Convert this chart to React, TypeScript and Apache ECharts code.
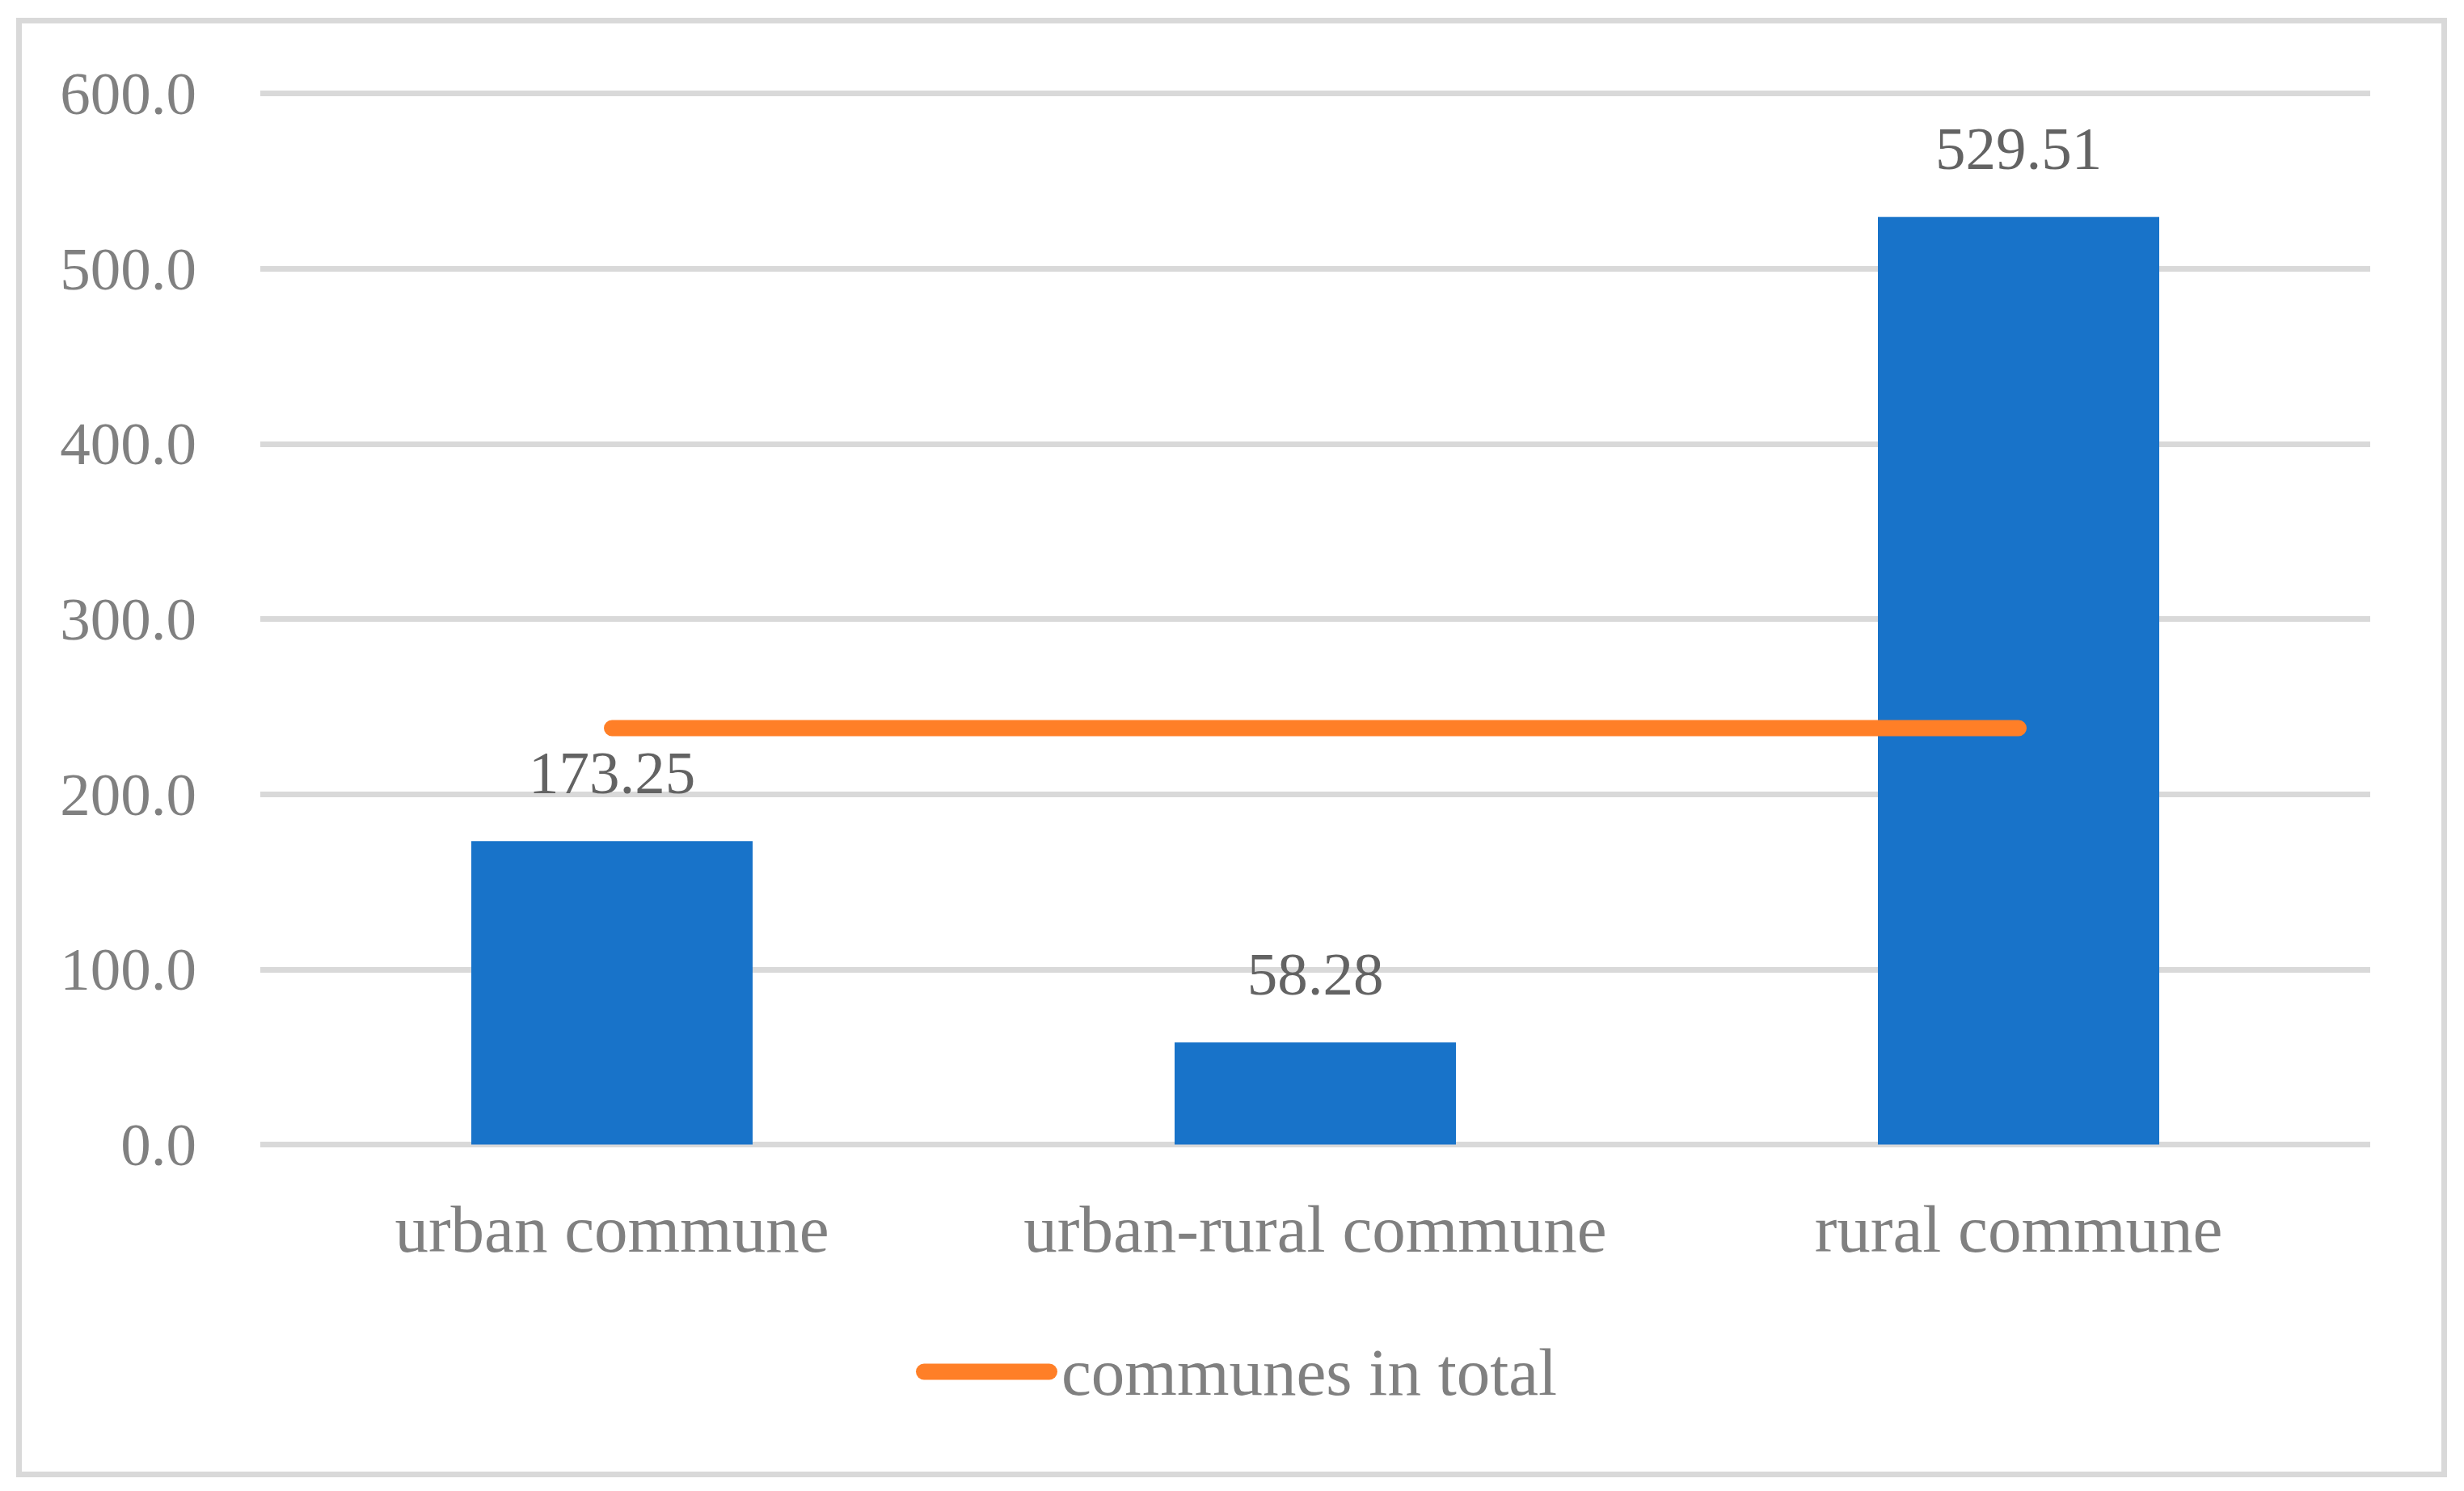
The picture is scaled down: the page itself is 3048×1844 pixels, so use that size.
import React, { useEffect, useRef } from "react";
import * as echarts from "echarts";

const categories = ["urban commune", "urban-rural commune", "rural commune"];
const barValues = [173.25, 58.28, 529.51];
const totalName = "communes in total";
const totalValues = [237.7, 237.7, 237.7];
const yTicks = { min: 0, max: 600, interval: 100 };

const FONT = "'Liberation Serif', 'Times New Roman', serif";

export default function App() {
  const ref = useRef<HTMLDivElement>(null);
  useEffect(() => {
    if (!ref.current) return;
    const chart = echarts.init(ref.current, null, { renderer: "svg" });
    chart.setOption({
      animation: false,
      backgroundColor: "#ffffff",
      textStyle: { fontFamily: FONT },
      graphic: [
        {
          type: "rect",
          shape: { x: 23.5, y: 25.5, width: 3000, height: 1798 },
          style: { fill: "none", stroke: "#d9d9d9", lineWidth: 7 },
          silent: true,
          z: -10,
        },
      ],
      grid: { left: 322, right: 116, top: 115.5, bottom: 428.5, containLabel: false },
      legend: {
        data: [totalName],
        left: 1133,
        top: 1655,
        padding: 0,
        itemWidth: 175,
        itemHeight: 20,
        icon: "path://M10,0 H165 A10,10 0 0 1 165,20 H10 A10,10 0 0 1 10,0 Z",
        textStyle: { fontFamily: FONT, fontSize: 83, color: "#808080", lineHeight: 83 },
      },
      xAxis: {
        type: "category",
        data: categories,
        boundaryGap: true,
        axisLine: { show: false },
        axisTick: { show: false },
        axisLabel: {
          interval: 0,
          fontFamily: FONT,
          fontSize: 83,
          lineHeight: 83,
          color: "#808080",
          margin: 63,
        },
      },
      yAxis: {
        type: "value",
        min: yTicks.min,
        max: yTicks.max,
        interval: yTicks.interval,
        axisLine: { show: false },
        axisTick: { show: false },
        splitLine: { lineStyle: { color: "#d9d9d9", width: 7 } },
        axisLabel: {
          fontFamily: FONT,
          fontSize: 75,
          color: "#808080",
          margin: 79,
          formatter: (v: number) => v.toFixed(1),
        },
      },
      series: [
        {
          type: "bar",
          name: "values",
          data: barValues,
          barWidth: "40%",
          itemStyle: { color: "#1873C9" },
          label: {
            show: true,
            position: "top",
            distance: 47,
            fontFamily: FONT,
            fontSize: 75,
            lineHeight: 75,
            color: "#636363",
            formatter: (p: any) => Number(p.value).toFixed(2),
          },
          z: 2,
        },
        {
          type: "line",
          name: totalName,
          data: totalValues,
          showSymbol: false,
          symbol: "none",
          lineStyle: { color: "#FF7F27", width: 20, cap: "round" },
          itemStyle: { color: "#FF7F27" },
          z: 3,
        },
      ],
    });
    return () => chart.dispose();
  }, []);
  return (
    <div
      ref={ref}
      style={{ position: "absolute", left: 0, top: 0, width: 3048, height: 1844 }}
    />
  );
}
